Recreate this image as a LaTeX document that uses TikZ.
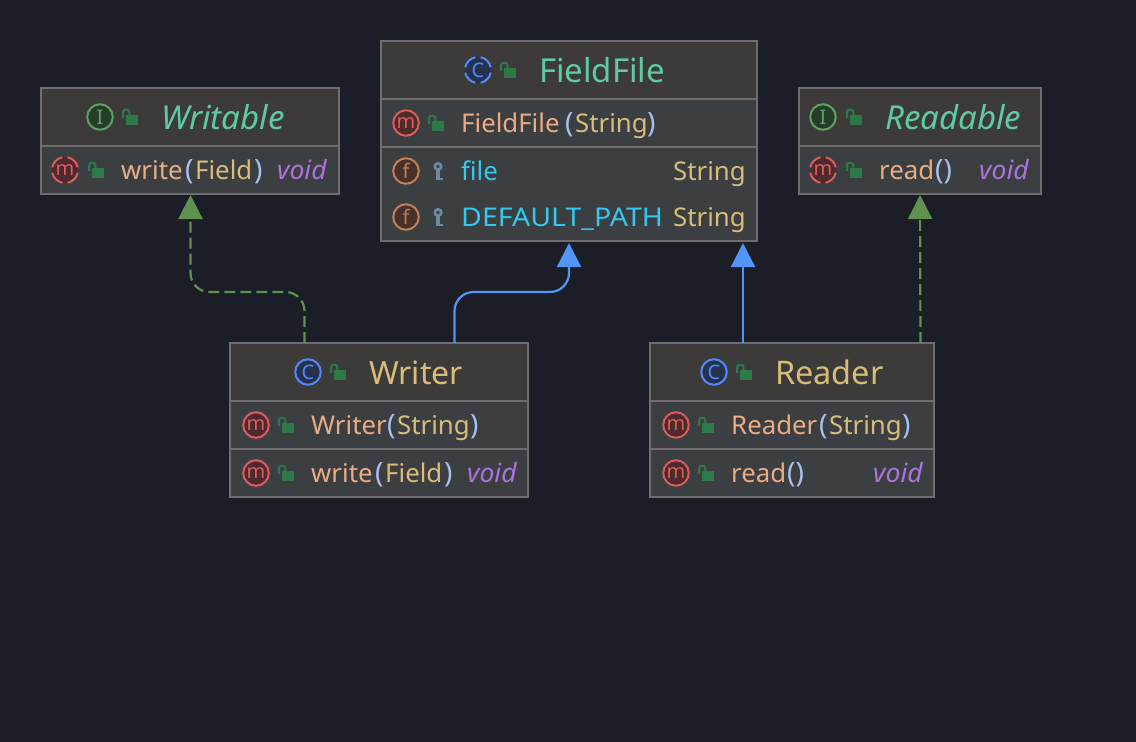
\documentclass[tikz,border=0pt]{standalone}
\usepackage{fontspec}
\usepackage{graphicx}
\setmainfont{Noto Sans}
\usetikzlibrary{arrows.meta,calc}
\definecolor{bgc}{HTML}{1B1E26}
\definecolor{hdr}{HTML}{3C3B3A}
\definecolor{bodyc}{HTML}{3B3F42}
\definecolor{edge}{HTML}{6E6E6E}
\definecolor{tgreen}{HTML}{5FCCA0}
\definecolor{tpeach}{HTML}{EDAB84}
\definecolor{tparen}{HTML}{A9C1F0}
\definecolor{tyellow}{HTML}{D8BC78}
\definecolor{tcyan}{HTML}{33C8F0}
\definecolor{tpurple}{HTML}{AE72DC}
\definecolor{lockc}{HTML}{2C7A48}
\definecolor{keyc}{HTML}{6F88A4}
\definecolor{icm}{HTML}{DB5C5C}\definecolor{icmf}{HTML}{4E2A2C}
\definecolor{icc}{HTML}{548AF7}\definecolor{iccf}{HTML}{25324D}
\definecolor{ici}{HTML}{5FA15F}\definecolor{icif}{HTML}{253C2B}
\definecolor{icf}{HTML}{C77D55}\definecolor{icff}{HTML}{45322B}
\definecolor{arrg}{HTML}{5F9150}
\definecolor{arrb}{HTML}{5294F7}
\newcount\tcnt
% \tseg{x}{baseline y}{colour}{font size}{text}
\newcommand{\tseg}[5]{\global\advance\tcnt by 1
  \node[anchor=base west,inner sep=0pt,text=#3,font=\fontsize{#4}{#4}\selectfont] (t\the\tcnt) at (#1,#2) {#5};}
% \icn{cx}{cy}{stroke}{fill}{letter}
\newcommand{\icn}[5]{\global\advance\tcnt by 1
  \node[circle,draw=#3,fill=#4,line width=2pt,minimum size=25.5pt,inner sep=0pt,text=#3,font=\fontsize{20}{20}\selectfont] (t\the\tcnt) at (#1,#2) {#5};}
% dashed variant: gaps on the diagonals
\newcommand{\icnd}[5]{\global\advance\tcnt by 1
  \node[circle,fill=#4,minimum size=26pt,inner sep=0pt,text=#3,font=\fontsize{20}{20}\selectfont] (t\the\tcnt) at (#1,#2) {#5};
  \foreach \aa in {0,90,180,270}{
    \draw[#3,line width=2pt] (#1,#2) ++({\aa+12}:13pt and -13pt) arc[start angle=\aa+12,end angle=\aa+78,x radius=13pt,y radius=-13pt];}}
% \lck{left}{top}
\newcommand{\lck}[2]{\begin{scope}[shift={(#1,#2)}]
  \fill[lockc] (4,6) rectangle (16,16);
  \draw[lockc,line width=2pt] (1,9) -- (1,3) arc[start angle=180,end angle=0,x radius=3.2,y radius=-2.4] -- (7.4,6);
\end{scope}}
% \kyc{cx}{cy}
\newcommand{\kyc}[2]{\begin{scope}[shift={(#1,#2)}]
  \draw[keyc,line width=2.6pt] (0,-4.5) circle[radius=3.2pt];
  \draw[keyc,line width=3.2pt] (0,-1) -- (0,9);
  \draw[keyc,line width=2.4pt] (0,7.8) -- (4.8,7.8);
\end{scope}}
% \cbox{name}{x1}{y1}{x2}{y2}{header bottom}
\newcommand{\cbox}[6]{%
  \pgfmathsetmacro{\bw}{#4-#2}\pgfmathsetmacro{\bh}{#5-#3}
  \node[boxbody,minimum width=\bw pt,minimum height=\bh pt] (#1) at ({(#2+#4)/2},{(#3+#5)/2}) {};
  \fill[hdr] (#2+1,#3+1) rectangle (#4-1,#6);
  \draw[edge,line width=1.6pt] (#2,#6) -- (#4,#6);}
\newcommand{\sepl}[3]{\draw[edge,line width=1.6pt] (#1,#3) -- (#2,#3);}
\tikzset{
  boxbody/.style={rectangle,draw=edge,fill=bodyc,line width=1.4pt,inner sep=0pt,outer sep=0pt},
  realize/.style={arrg,line width=2.2pt,dash pattern=on 11pt off 5pt,rounded corners=19pt,-{Triangle[length=24pt,width=24pt]}},
  inherit/.style={arrb,line width=2.2pt,rounded corners=19pt,-{Triangle[length=24pt,width=24pt]}}
}
\newcommand{\pn}[1]{\fontsize{28}{28}\selectfont\bfseries #1}
\begin{document}
\begin{tikzpicture}[x=1pt,y=-1pt]
\useasboundingbox (0,0) rectangle (1136,742);
\fill[bgc] (0,0) rectangle (1136,742);
\def\ts{33}\def\ms{25.8}\def\vs{26.5}

% FieldFile
\cbox{fieldfile}{381}{41}{757}{241}{99}
\sepl{381}{757}{147}
\icnd{478}{70}{icc}{iccf}{C}
\lck{500}{62}
\tseg{539}{82}{tgreen}{\ts}{FieldFile}
\icn{406}{123}{icm}{icmf}{m}
\lck{428}{115}
\tseg{461}{132}{tpeach}{\ms}{FieldFile}
\tseg{565}{132}{tparen}{\ms}{\pn{(}}
\tseg{575}{132}{tyellow}{\ms}{String}
\tseg{647}{132}{tparen}{\ms}{\pn{)}}
\icn{406}{171}{icf}{icff}{f}
\kyc{438}{171}
\tseg{461}{180}{tcyan}{\ms}{file}
\tseg{673}{180}{tyellow}{\ms}{String}
\icn{406}{217}{icf}{icff}{f}
\kyc{438}{217}
\tseg{461}{226}{tcyan}{\ms}{\scalebox{1.105}[1]{DEFAULT\_PATH}}
\tseg{673}{226}{tyellow}{\ms}{String}

% Writable
\cbox{writable}{41}{88}{339}{194}{146}
\icn{100}{117}{ici}{icif}{I}
\lck{122}{109}
\tseg{161}{129}{tgreen}{\ts}{\itshape Writable}
\icnd{65}{170}{icm}{icmf}{m}
\lck{88}{162}
\tseg{121}{179}{tpeach}{\ms}{write}
\tseg{185}{179}{tparen}{\ms}{\pn{(}}
\tseg{195}{179}{tyellow}{\ms}{Field}
\tseg{254}{179}{tparen}{\ms}{\pn{)}}
\tseg{277}{179}{tpurple}{\vs}{\itshape void}

% Readable
\cbox{readable}{799}{88}{1041}{194}{146}
\icn{823}{117}{ici}{icif}{I}
\lck{846}{109}
\tseg{885}{129}{tgreen}{\ts}{\itshape Readable}
\icnd{823}{170}{icm}{icmf}{m}
\lck{846}{162}
\tseg{879}{179}{tpeach}{\ms}{read}
\tseg{935}{179}{tparen}{\ms}{\pn{()}}
\tseg{979}{179}{tpurple}{\vs}{\itshape void}

% Writer
\cbox{writer}{230}{343}{528}{497}{401}
\sepl{230}{528}{449}
\icn{308}{372}{icc}{iccf}{C}
\lck{330}{364}
\tseg{369}{384}{tyellow}{32}{Writer}
\icn{256}{425}{icm}{icmf}{m}
\lck{278}{417}
\tseg{311}{434}{tpeach}{\ms}{Writer}
\tseg{387}{434}{tparen}{\ms}{\pn{(}}
\tseg{397}{434}{tyellow}{\ms}{String}
\tseg{470}{434}{tparen}{\ms}{\pn{)}}
\icn{256}{473}{icm}{icmf}{m}
\lck{278}{465}
\tseg{311}{482}{tpeach}{\ms}{write}
\tseg{375}{482}{tparen}{\ms}{\pn{(}}
\tseg{385}{482}{tyellow}{\ms}{Field}
\tseg{444}{482}{tparen}{\ms}{\pn{)}}
\tseg{467}{482}{tpurple}{\vs}{\itshape void}

% Reader
\cbox{reader}{650}{343}{934}{497}{401}
\sepl{650}{934}{449}
\icn{714}{372}{icc}{iccf}{C}
\lck{736}{364}
\tseg{775}{384}{tyellow}{32.5}{Reader}
\icn{676}{425}{icm}{icmf}{m}
\lck{698}{417}
\tseg{731}{434}{tpeach}{\ms}{Reader}
\tseg{819}{434}{tparen}{\ms}{\pn{(}}
\tseg{829}{434}{tyellow}{\ms}{String}
\tseg{902}{434}{tparen}{\ms}{\pn{)}}
\icn{676}{473}{icm}{icmf}{m}
\lck{698}{465}
\tseg{731}{482}{tpeach}{\ms}{read}
\tseg{787}{482}{tparen}{\ms}{\pn{()}}
\tseg{873}{482}{tpurple}{\vs}{\itshape void}

% Connectors
\coordinate (wrtop) at ($(writer.north west)+(74.5,0)$);
\coordinate (wrtop2) at ($(writer.north west)+(224.5,0)$);
\coordinate (wtbot) at ($(writable.south west)+(149.5,1)$);
\coordinate (fftip1) at ($(fieldfile.south west)+(188,2)$);
\coordinate (fftip2) at ($(fieldfile.south west)+(362,2)$);
\coordinate (rdtop1) at ($(reader.north west)+(93,0)$);
\coordinate (rdtop2) at ($(reader.north west)+(270.5,0)$);
\coordinate (rbbot) at ($(readable.south west)+(121,1)$);
\coordinate (bendg) at (0,292);
\coordinate (bendb) at (0,292);
\draw[realize] (wrtop) -- (wrtop |- bendg) -- (wtbot |- bendg) -- (wtbot);
\draw[inherit] (wrtop2) -- (wrtop2 |- bendb) -- (fftip1 |- bendb) -- (fftip1);
\draw[inherit] (rdtop1) -- (fftip2);
\draw[realize] (rdtop2) -- (rbbot);
\end{tikzpicture}
\end{document}
